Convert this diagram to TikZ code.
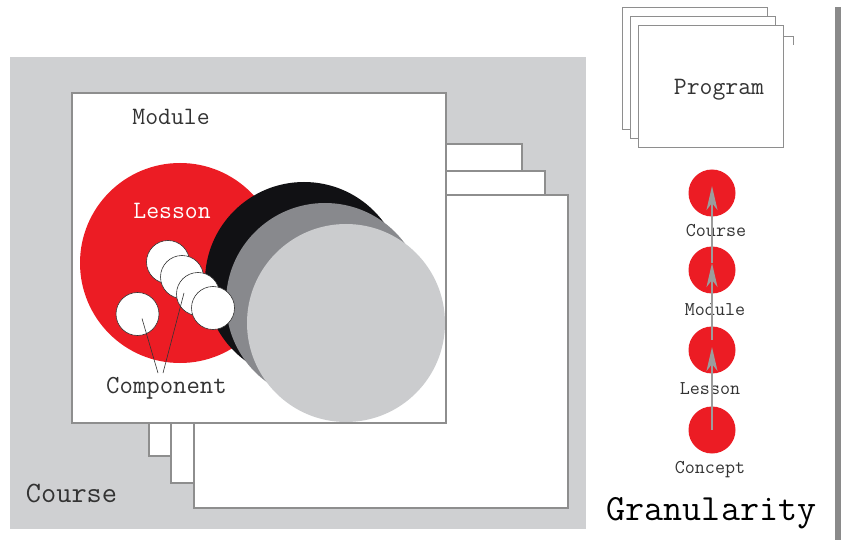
\documentclass[tikz,border=0pt]{standalone}
\usetikzlibrary{arrows.meta}
\definecolor{bgcourse}{HTML}{CFD0D2}
\definecolor{frame}{HTML}{8E8E8E}
\definecolor{lred}{HTML}{EC1C24}
\definecolor{cblack}{HTML}{111114}
\definecolor{cdark}{HTML}{88898D}
\definecolor{clight}{HTML}{CBCCCE}
\definecolor{agray}{HTML}{9C9C9C}
\definecolor{bar}{HTML}{8A8A8A}
\definecolor{txt}{HTML}{333333}
\tikzset{
  sheet/.style={draw=frame, fill=white, line width=1.1pt},
  disc/.style={circle, inner sep=0pt, outer sep=0pt, minimum size=#1},
  comp/.style={circle, draw=txt, fill=white, line width=0.6pt, inner sep=0pt, outer sep=0pt, minimum size=43pt},
  lbl/.style={font=\ttfamily\fontsize{25}{25}\selectfont, text=txt, anchor=base, inner sep=0pt},
  slbl/.style={font=\ttfamily\fontsize{19.5}{19.5}\selectfont, text=txt, anchor=base, inner sep=0pt},
  reddot/.style={circle, fill=lred, inner sep=0pt, outer sep=0pt, minimum size=47pt},
  upar/.style={draw=agray, line width=2.6pt, -{Stealth[length=24pt,width=11pt,inset=7pt]}},
  pointer/.style={draw=txt, line width=0.6pt}
}
\begin{document}
\begin{tikzpicture}[x=1pt,y=-1pt]
\useasboundingbox (0,0) rectangle (841,540);
\fill[white] (0,0) rectangle (841,540);
% Course background
\fill[bgcourse] (10,57) rectangle (586,529);
% stacked sheets behind module
\draw[sheet] (149,144) rectangle (522,456);
\draw[sheet] (171,171) rectangle (545,483);
\draw[sheet] (194,195) rectangle (568,508);
% module sheet
\draw[sheet] (72,93) rectangle (446,423);
% lesson circles
\node[disc=200pt, fill=lred] (lesson) at (180,263) {};
\node[disc=198pt, fill=cblack] (l2) at (304,281) {};
\node[disc=198pt, fill=cdark] (l3) at (325,302) {};
\node[disc=198pt, fill=clight] (l4) at (346,323) {};
% components
\node[comp] (ca) at (137.5,314) {};
\node[comp] (c1) at (168,262) {};
\node[comp] (c2) at (182,277) {};
\node[comp] (c3) at (198,294) {};
\node[comp] (c4) at (213,308) {};
% labels
\node[lbl] (tmod) at (171,125) {Module};
\node[lbl, text=white] (tles) at (172,219) {Lesson};
\node[lbl, font=\ttfamily\fontsize{26}{26}\selectfont] (tcomp) at (166.5,393) {Component};
\node[font=\ttfamily\fontsize{29.5}{29.5}\selectfont, text=txt, anchor=base, inner sep=0pt] (tcourse) at (71.5,502) {Course};
\coordinate (ptip1) at (158,373);
\coordinate (ptip2) at (163,373);
\draw[pointer] ([shift={(4.5,4.5)}]ca.center) -- (ptip1);
\draw[pointer] ([shift={(-14,-1)}]c3.center) -- (ptip2);
% Program stack
\draw[sheet, line width=0.9pt] (622,7) rectangle (767,129);
\draw[sheet, line width=0.9pt] (630,16) rectangle (775,138);
\draw[sheet, line width=0.9pt] (638,25) rectangle (783,147);
\coordinate (pk1) at (783,36);
\coordinate (pk2) at (793,36);
\coordinate (pk3) at (793,45);
\draw[frame, line width=0.9pt] (pk1) -- (pk2) -- (pk3);
\node[lbl] (tprog) at (719,95) {Program};
% granularity dots
\node[reddot] (d1) at (712,193) {};
\node[reddot] (d2) at (712,270) {};
\node[reddot] (d3) at (712,350) {};
\node[reddot] (d4) at (712,430) {};
\node[slbl] (s1) at (716,237) {Course};
\node[slbl] (s2) at (715,315) {Module};
\node[slbl] (s3) at (710,394) {Lesson};
\node[slbl] (s4) at (710,473) {Concept};
\draw[upar] (d4.center) -- ([yshift=3pt]d3.center);
\draw[upar] ([yshift=10pt]d3.center) -- ([yshift=7pt]d2.center);
\draw[upar] ([yshift=7pt]d2.center) -- ([yshift=7pt]d1.center);
\node[font=\ttfamily\fontsize{37}{37}\selectfont, text=black, anchor=base, inner sep=0pt] (tgran) at (711.5,520) {Granularity};
% right bar
\fill[bar] (835,7) rectangle (841,540);
\end{tikzpicture}
\end{document}
